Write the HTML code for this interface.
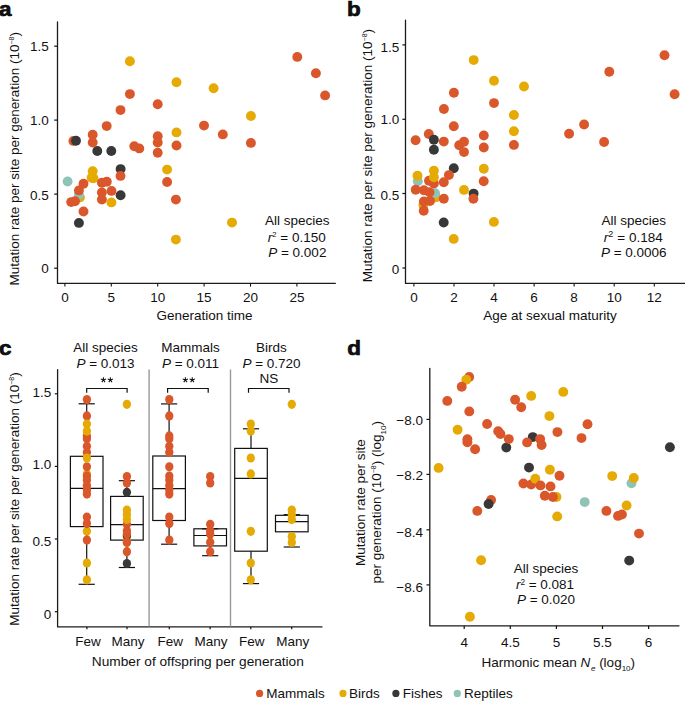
<!DOCTYPE html>
<html><head><meta charset="utf-8"><title>Figure</title>
<style>
html,body{margin:0;padding:0;background:#fff;}
body{width:685px;height:701px;overflow:hidden;}
svg{display:block;}
text{font-family:"Liberation Sans", sans-serif;fill:#111;}
</style></head>
<body>
<svg width="685" height="701" viewBox="0 0 685 701">
<rect width="685" height="701" fill="#fff"/>
<g>
<text transform="translate(-1.1,15.9) scale(1,0.93)" font-size="22.5" font-weight="bold" stroke="#000" stroke-width="0.7" stroke-linejoin="round">a</text>
<text transform="translate(347.1,15.8) scale(1,0.93)" font-size="22.5" font-weight="bold" stroke="#000" stroke-width="0.7" stroke-linejoin="round">b</text>
<text transform="translate(-0.9,354.7) scale(1,0.93)" font-size="22.5" font-weight="bold" stroke="#000" stroke-width="0.7" stroke-linejoin="round">c</text>
<text transform="translate(347.3,355.0) scale(1,0.93)" font-size="22.5" font-weight="bold" stroke="#000" stroke-width="0.7" stroke-linejoin="round">d</text>
</g>
<path d="M57.5,22.0 V283.4 H335.3" fill="none" stroke="#1c1c1c" stroke-width="1.3" stroke-linejoin="round" stroke-linecap="round"/>
<line x1="54.2" y1="268.2" x2="57.4" y2="268.2" stroke="#111" stroke-width="1.2"/>
<text x="48.8" y="272.6" font-size="13.5" text-anchor="end" >0</text>
<line x1="54.2" y1="194.1" x2="57.4" y2="194.1" stroke="#111" stroke-width="1.2"/>
<text x="48.8" y="199.8" font-size="13.5" text-anchor="end" >0.5</text>
<line x1="54.2" y1="120.1" x2="57.4" y2="120.1" stroke="#111" stroke-width="1.2"/>
<text x="48.8" y="124.8" font-size="13.5" text-anchor="end" >1.0</text>
<line x1="54.2" y1="46.2" x2="57.4" y2="46.2" stroke="#111" stroke-width="1.2"/>
<text x="48.8" y="50.8" font-size="13.5" text-anchor="end" >1.5</text>
<line x1="64.9" y1="283.4" x2="64.9" y2="286.6" stroke="#111" stroke-width="1.1"/>
<text x="64.9" y="302.2" font-size="13.5" text-anchor="middle" >0</text>
<line x1="111.3" y1="283.4" x2="111.3" y2="286.6" stroke="#111" stroke-width="1.1"/>
<text x="111.3" y="302.2" font-size="13.5" text-anchor="middle" >5</text>
<line x1="157.7" y1="283.4" x2="157.7" y2="286.6" stroke="#111" stroke-width="1.1"/>
<text x="157.7" y="302.2" font-size="13.5" text-anchor="middle" >10</text>
<line x1="204.1" y1="283.4" x2="204.1" y2="286.6" stroke="#111" stroke-width="1.1"/>
<text x="204.1" y="302.2" font-size="13.5" text-anchor="middle" >15</text>
<line x1="250.5" y1="283.4" x2="250.5" y2="286.6" stroke="#111" stroke-width="1.1"/>
<text x="250.5" y="302.2" font-size="13.5" text-anchor="middle" >20</text>
<line x1="296.9" y1="283.4" x2="296.9" y2="286.6" stroke="#111" stroke-width="1.1"/>
<text x="296.9" y="302.2" font-size="13.5" text-anchor="middle" >25</text>
<text x="204.5" y="320.1" font-size="13.5" text-anchor="middle" >Generation time</text>
<text transform="translate(19.3,158.8) rotate(-90)" font-size="13.5" text-anchor="middle">Mutation rate per site per generation (10<tspan dy="-5" font-size="7">−8</tspan><tspan dy="5">)</tspan></text>
<circle cx="97.3" cy="151.0" r="4.95" fill="#383838"/>
<circle cx="111.3" cy="151.0" r="4.95" fill="#383838"/>
<circle cx="120.6" cy="169.1" r="4.95" fill="#383838"/>
<circle cx="120.6" cy="195.3" r="4.95" fill="#383838"/>
<circle cx="78.9" cy="222.9" r="4.95" fill="#383838"/>
<circle cx="129.9" cy="61.2" r="4.95" fill="#E5AA04"/>
<circle cx="176.5" cy="82.3" r="4.95" fill="#E5AA04"/>
<circle cx="176.5" cy="132.4" r="4.95" fill="#E5AA04"/>
<circle cx="213.6" cy="88.2" r="4.95" fill="#E5AA04"/>
<circle cx="250.9" cy="116.0" r="4.95" fill="#E5AA04"/>
<circle cx="92.7" cy="171.2" r="4.95" fill="#E5AA04"/>
<circle cx="91.6" cy="177.7" r="4.95" fill="#E5AA04"/>
<circle cx="93.5" cy="178.3" r="4.95" fill="#E5AA04"/>
<circle cx="167.1" cy="169.6" r="4.95" fill="#E5AA04"/>
<circle cx="79.9" cy="197.4" r="4.95" fill="#E5AA04"/>
<circle cx="111.4" cy="202.4" r="4.95" fill="#E5AA04"/>
<circle cx="175.9" cy="239.6" r="4.95" fill="#E5AA04"/>
<circle cx="232.0" cy="222.6" r="4.95" fill="#E5AA04"/>
<circle cx="67.6" cy="181.5" r="4.95" fill="#8FC3B6"/>
<circle cx="78.9" cy="194.9" r="4.95" fill="#8FC3B6"/>
<circle cx="73.4" cy="140.9" r="4.95" fill="#D9572B"/>
<circle cx="92.7" cy="134.8" r="4.95" fill="#D9572B"/>
<circle cx="92.7" cy="142.5" r="4.95" fill="#D9572B"/>
<circle cx="106.7" cy="126.1" r="4.95" fill="#D9572B"/>
<circle cx="120.5" cy="110.1" r="4.95" fill="#D9572B"/>
<circle cx="129.9" cy="94.1" r="4.95" fill="#D9572B"/>
<circle cx="134.3" cy="146.2" r="4.95" fill="#D9572B"/>
<circle cx="139.3" cy="148.4" r="4.95" fill="#D9572B"/>
<circle cx="157.7" cy="104.2" r="4.95" fill="#D9572B"/>
<circle cx="157.7" cy="136.3" r="4.95" fill="#D9572B"/>
<circle cx="157.7" cy="142.5" r="4.95" fill="#D9572B"/>
<circle cx="157.7" cy="152.8" r="4.95" fill="#D9572B"/>
<circle cx="176.5" cy="145.5" r="4.95" fill="#D9572B"/>
<circle cx="204.0" cy="125.6" r="4.95" fill="#D9572B"/>
<circle cx="222.8" cy="134.4" r="4.95" fill="#D9572B"/>
<circle cx="250.9" cy="142.9" r="4.95" fill="#D9572B"/>
<circle cx="297.3" cy="56.9" r="4.95" fill="#D9572B"/>
<circle cx="315.9" cy="73.3" r="4.95" fill="#D9572B"/>
<circle cx="325.1" cy="95.4" r="4.95" fill="#D9572B"/>
<circle cx="120.5" cy="175.9" r="4.95" fill="#D9572B"/>
<circle cx="167.1" cy="182.0" r="4.95" fill="#D9572B"/>
<circle cx="83.5" cy="183.7" r="4.95" fill="#D9572B"/>
<circle cx="101.9" cy="182.8" r="4.95" fill="#D9572B"/>
<circle cx="106.8" cy="181.8" r="4.95" fill="#D9572B"/>
<circle cx="78.9" cy="190.4" r="4.95" fill="#D9572B"/>
<circle cx="101.9" cy="192.5" r="4.95" fill="#D9572B"/>
<circle cx="111.5" cy="190.9" r="4.95" fill="#D9572B"/>
<circle cx="71.2" cy="202.1" r="4.95" fill="#D9572B"/>
<circle cx="75.0" cy="201.3" r="4.95" fill="#D9572B"/>
<circle cx="101.9" cy="199.6" r="4.95" fill="#D9572B"/>
<circle cx="175.9" cy="199.6" r="4.95" fill="#D9572B"/>
<circle cx="83.5" cy="211.5" r="4.95" fill="#D9572B"/>
<circle cx="76.0" cy="140.7" r="4.95" fill="#383838"/>
<text x="297.3" y="224.8" font-size="13.5" text-anchor="middle" >All species</text>
<text x="296.8" y="241.6" font-size="13.5" text-anchor="middle" ><tspan font-style="italic">r</tspan><tspan dy="-4.3" font-size="7.6">2</tspan><tspan dy="4.3"> = 0.150</tspan></text>
<text x="297.3" y="257.3" font-size="13.5" text-anchor="middle" ><tspan font-style="italic">P</tspan> = 0.002</text>
<path d="M405.5,20.1 V283.4 H686" fill="none" stroke="#1c1c1c" stroke-width="1.3" stroke-linejoin="round" stroke-linecap="round"/>
<line x1="402.4" y1="268.0" x2="405.5" y2="268.0" stroke="#111" stroke-width="1.2"/>
<text x="399.3" y="273.7" font-size="13.5" text-anchor="end" >0</text>
<line x1="402.4" y1="193.5" x2="405.5" y2="193.5" stroke="#111" stroke-width="1.2"/>
<text x="399.3" y="199.9" font-size="13.5" text-anchor="end" >0.5</text>
<line x1="402.4" y1="119.3" x2="405.5" y2="119.3" stroke="#111" stroke-width="1.2"/>
<text x="399.3" y="123.9" font-size="13.5" text-anchor="end" >1.0</text>
<line x1="402.4" y1="44.9" x2="405.5" y2="44.9" stroke="#111" stroke-width="1.2"/>
<text x="399.3" y="51.7" font-size="13.5" text-anchor="end" >1.5</text>
<line x1="413.9" y1="283.4" x2="413.9" y2="286.6" stroke="#111" stroke-width="1.1"/>
<text x="413.9" y="302.2" font-size="13.5" text-anchor="middle" >0</text>
<line x1="454.0" y1="283.4" x2="454.0" y2="286.6" stroke="#111" stroke-width="1.1"/>
<text x="454.0" y="302.2" font-size="13.5" text-anchor="middle" >2</text>
<line x1="494.0" y1="283.4" x2="494.0" y2="286.6" stroke="#111" stroke-width="1.1"/>
<text x="494.0" y="302.2" font-size="13.5" text-anchor="middle" >4</text>
<line x1="534.1" y1="283.4" x2="534.1" y2="286.6" stroke="#111" stroke-width="1.1"/>
<text x="534.1" y="302.2" font-size="13.5" text-anchor="middle" >6</text>
<line x1="574.1" y1="283.4" x2="574.1" y2="286.6" stroke="#111" stroke-width="1.1"/>
<text x="574.1" y="302.2" font-size="13.5" text-anchor="middle" >8</text>
<line x1="614.2" y1="283.4" x2="614.2" y2="286.6" stroke="#111" stroke-width="1.1"/>
<text x="614.2" y="302.2" font-size="13.5" text-anchor="middle" >10</text>
<line x1="654.3" y1="283.4" x2="654.3" y2="286.6" stroke="#111" stroke-width="1.1"/>
<text x="654.3" y="302.2" font-size="13.5" text-anchor="middle" >12</text>
<text x="550.0" y="320.0" font-size="13.5" text-anchor="middle" >Age at sexual maturity</text>
<text transform="translate(372.0,155.6) rotate(-90)" font-size="13.5" text-anchor="middle">Mutation rate per site per generation (10<tspan dy="-5" font-size="7">−8</tspan><tspan dy="5">)</tspan></text>
<circle cx="433.9" cy="149.8" r="4.95" fill="#383838"/>
<circle cx="453.8" cy="168.2" r="4.95" fill="#383838"/>
<circle cx="443.7" cy="222.5" r="4.95" fill="#383838"/>
<circle cx="473.6" cy="193.6" r="4.95" fill="#383838"/>
<circle cx="473.7" cy="60.1" r="4.95" fill="#E5AA04"/>
<circle cx="494.0" cy="80.7" r="4.95" fill="#E5AA04"/>
<circle cx="524.0" cy="86.5" r="4.95" fill="#E5AA04"/>
<circle cx="513.9" cy="115.0" r="4.95" fill="#E5AA04"/>
<circle cx="513.9" cy="131.3" r="4.95" fill="#E5AA04"/>
<circle cx="483.8" cy="168.8" r="4.95" fill="#E5AA04"/>
<circle cx="464.0" cy="189.9" r="4.95" fill="#E5AA04"/>
<circle cx="435.7" cy="197.4" r="4.95" fill="#E5AA04"/>
<circle cx="423.4" cy="205.0" r="4.95" fill="#E5AA04"/>
<circle cx="493.9" cy="221.9" r="4.95" fill="#E5AA04"/>
<circle cx="453.7" cy="238.9" r="4.95" fill="#E5AA04"/>
<circle cx="417.8" cy="181.2" r="4.95" fill="#8FC3B6"/>
<circle cx="435.1" cy="193.3" r="4.95" fill="#8FC3B6"/>
<circle cx="415.6" cy="140.3" r="4.95" fill="#D9572B"/>
<circle cx="428.8" cy="134.0" r="4.95" fill="#D9572B"/>
<circle cx="443.8" cy="141.6" r="4.95" fill="#D9572B"/>
<circle cx="453.8" cy="126.3" r="4.95" fill="#D9572B"/>
<circle cx="459.2" cy="145.2" r="4.95" fill="#D9572B"/>
<circle cx="464.0" cy="141.7" r="4.95" fill="#D9572B"/>
<circle cx="464.0" cy="152.1" r="4.95" fill="#D9572B"/>
<circle cx="453.9" cy="92.7" r="4.95" fill="#D9572B"/>
<circle cx="443.9" cy="109.0" r="4.95" fill="#D9572B"/>
<circle cx="483.8" cy="135.5" r="4.95" fill="#D9572B"/>
<circle cx="483.8" cy="147.5" r="4.95" fill="#D9572B"/>
<circle cx="494.0" cy="103.1" r="4.95" fill="#D9572B"/>
<circle cx="513.9" cy="144.9" r="4.95" fill="#D9572B"/>
<circle cx="483.7" cy="181.2" r="4.95" fill="#D9572B"/>
<circle cx="448.9" cy="175.1" r="4.95" fill="#D9572B"/>
<circle cx="429.0" cy="180.7" r="4.95" fill="#D9572B"/>
<circle cx="433.9" cy="183.6" r="4.95" fill="#D9572B"/>
<circle cx="443.8" cy="182.3" r="4.95" fill="#D9572B"/>
<circle cx="415.7" cy="189.7" r="4.95" fill="#D9572B"/>
<circle cx="423.9" cy="190.2" r="4.95" fill="#D9572B"/>
<circle cx="429.5" cy="192.3" r="4.95" fill="#D9572B"/>
<circle cx="423.9" cy="201.5" r="4.95" fill="#D9572B"/>
<circle cx="430.0" cy="201.0" r="4.95" fill="#D9572B"/>
<circle cx="443.8" cy="198.8" r="4.95" fill="#D9572B"/>
<circle cx="423.7" cy="210.7" r="4.95" fill="#D9572B"/>
<circle cx="473.4" cy="198.8" r="4.95" fill="#D9572B"/>
<circle cx="664.5" cy="55.2" r="4.95" fill="#D9572B"/>
<circle cx="609.3" cy="71.8" r="4.95" fill="#D9572B"/>
<circle cx="674.6" cy="94.2" r="4.95" fill="#D9572B"/>
<circle cx="584.1" cy="124.5" r="4.95" fill="#D9572B"/>
<circle cx="569.1" cy="133.7" r="4.95" fill="#D9572B"/>
<circle cx="604.1" cy="142.0" r="4.95" fill="#D9572B"/>
<circle cx="433.9" cy="170.8" r="4.95" fill="#E5AA04"/>
<circle cx="433.9" cy="177.3" r="4.95" fill="#E5AA04"/>
<circle cx="417.5" cy="175.7" r="4.95" fill="#E5AA04"/>
<circle cx="433.9" cy="139.8" r="4.95" fill="#383838"/>
<text x="633.8" y="225.0" font-size="13.5" text-anchor="middle" >All species</text>
<text x="633.2" y="241.7" font-size="13.5" text-anchor="middle" ><tspan font-style="italic">r</tspan><tspan dy="-4.8" font-size="9">2</tspan><tspan dy="4.8" dx="0.4"> = 0.184</tspan></text>
<text x="633.8" y="257.2" font-size="13.5" text-anchor="middle" ><tspan font-style="italic">P</tspan> = 0.0006</text>
<path d="M57.6,369.6 V626.9 H322.0" fill="none" stroke="#1c1c1c" stroke-width="1.3" stroke-linejoin="round" stroke-linecap="round"/>
<line x1="54.8" y1="611.7" x2="57.6" y2="611.7" stroke="#111" stroke-width="1.2"/>
<text x="51.2" y="618.9" font-size="13.5" text-anchor="end" >0</text>
<line x1="54.8" y1="539.0" x2="57.6" y2="539.0" stroke="#111" stroke-width="1.2"/>
<text x="51.2" y="545.8" font-size="13.5" text-anchor="end" >0.5</text>
<line x1="54.8" y1="466.4" x2="57.6" y2="466.4" stroke="#111" stroke-width="1.2"/>
<text x="51.2" y="469.2" font-size="13.5" text-anchor="end" >1.0</text>
<line x1="54.8" y1="393.8" x2="57.6" y2="393.8" stroke="#111" stroke-width="1.2"/>
<text x="51.2" y="397.2" font-size="13.5" text-anchor="end" >1.5</text>
<line x1="149.1" y1="369.4" x2="149.1" y2="626.5" stroke="#999" stroke-width="1.4"/>
<line x1="230.5" y1="369.4" x2="230.5" y2="626.5" stroke="#999" stroke-width="1.4"/>
<line x1="86.9" y1="626.9" x2="86.9" y2="629.3" stroke="#111" stroke-width="1.2"/>
<text x="87.9" y="646.2" font-size="13.5" text-anchor="middle" >Few</text>
<line x1="127.0" y1="626.9" x2="127.0" y2="629.3" stroke="#111" stroke-width="1.2"/>
<text x="128.0" y="646.2" font-size="13.5" text-anchor="middle" >Many</text>
<line x1="169.3" y1="626.9" x2="169.3" y2="629.3" stroke="#111" stroke-width="1.2"/>
<text x="170.3" y="646.2" font-size="13.5" text-anchor="middle" >Few</text>
<line x1="210.1" y1="626.9" x2="210.1" y2="629.3" stroke="#111" stroke-width="1.2"/>
<text x="211.1" y="646.2" font-size="13.5" text-anchor="middle" >Many</text>
<line x1="250.8" y1="626.9" x2="250.8" y2="629.3" stroke="#111" stroke-width="1.2"/>
<text x="251.8" y="646.2" font-size="13.5" text-anchor="middle" >Few</text>
<line x1="291.7" y1="626.9" x2="291.7" y2="629.3" stroke="#111" stroke-width="1.2"/>
<text x="292.7" y="646.2" font-size="13.5" text-anchor="middle" >Many</text>
<text x="197.8" y="666.4" font-size="13.7" text-anchor="middle" >Number of offspring per generation</text>
<text transform="translate(19.3,499.0) rotate(-90)" font-size="13.5" text-anchor="middle">Mutation rate per site per generation (10<tspan dy="-5" font-size="7">−8</tspan><tspan dy="5">)</tspan></text>
<text x="105.5" y="352.1" font-size="13.5" text-anchor="middle" >All species</text>
<text x="105.5" y="367.8" font-size="13.5" text-anchor="middle" ><tspan font-style="italic">P</tspan> = 0.013</text>
<text x="190.5" y="352.1" font-size="13.5" text-anchor="middle" >Mammals</text>
<text x="190.5" y="367.8" font-size="13.5" text-anchor="middle" ><tspan font-style="italic">P</tspan> = 0.011</text>
<text x="271.5" y="352.1" font-size="13.5" text-anchor="middle" >Birds</text>
<text x="271.5" y="367.8" font-size="13.5" text-anchor="middle" ><tspan font-style="italic">P</tspan> = 0.720</text>
<path d="M86.7,392.8 V388.5 H127.1 V392.8" fill="none" stroke="#111" stroke-width="1.2"/>
<path d="M103.45,379.90L103.45,377.15M103.45,379.90L106.07,379.05M103.45,379.90L105.07,382.12M103.45,379.90L101.83,382.12M103.45,379.90L100.83,379.05" stroke="#111" stroke-width="1.05" stroke-linecap="butt" fill="none"/>
<path d="M110.35,379.90L110.35,377.15M110.35,379.90L112.97,379.05M110.35,379.90L111.97,382.12M110.35,379.90L108.73,382.12M110.35,379.90L107.73,379.05" stroke="#111" stroke-width="1.05" stroke-linecap="butt" fill="none"/>
<path d="M167.6,392.8 V388.5 H208.2 V392.8" fill="none" stroke="#111" stroke-width="1.2"/>
<path d="M185.35,379.90L185.35,377.15M185.35,379.90L187.97,379.05M185.35,379.90L186.97,382.12M185.35,379.90L183.73,382.12M185.35,379.90L182.73,379.05" stroke="#111" stroke-width="1.05" stroke-linecap="butt" fill="none"/>
<path d="M192.25,379.90L192.25,377.15M192.25,379.90L194.87,379.05M192.25,379.90L193.87,382.12M192.25,379.90L190.63,382.12M192.25,379.90L189.63,379.05" stroke="#111" stroke-width="1.05" stroke-linecap="butt" fill="none"/>
<path d="M248.5,392.8 V388.5 H289.0 V392.8" fill="none" stroke="#111" stroke-width="1.2"/>
<text x="268.8" y="382.8" font-size="13.5" text-anchor="middle" >NS</text>
<line x1="86.7" y1="403.8" x2="86.7" y2="456.3" stroke="#111" stroke-width="1.2"/>
<line x1="86.7" y1="526.6" x2="86.7" y2="584.3" stroke="#111" stroke-width="1.2"/>
<line x1="78.6" y1="403.8" x2="94.8" y2="403.8" stroke="#111" stroke-width="1.2"/>
<line x1="78.6" y1="584.3" x2="94.8" y2="584.3" stroke="#111" stroke-width="1.2"/>
<rect x="70.4" y="456.3" width="32.6" height="70.3" fill="none" stroke="#111" stroke-width="1.2"/>
<line x1="70.4" y1="488.4" x2="103.0" y2="488.4" stroke="#111" stroke-width="1.2"/>
<line x1="126.9" y1="480.7" x2="126.9" y2="496.4" stroke="#111" stroke-width="1.2"/>
<line x1="126.9" y1="540.1" x2="126.9" y2="567.5" stroke="#111" stroke-width="1.2"/>
<line x1="118.8" y1="480.7" x2="135.0" y2="480.7" stroke="#111" stroke-width="1.2"/>
<line x1="118.8" y1="567.5" x2="135.0" y2="567.5" stroke="#111" stroke-width="1.2"/>
<rect x="110.6" y="496.4" width="32.6" height="43.7" fill="none" stroke="#111" stroke-width="1.2"/>
<line x1="110.6" y1="524.6" x2="143.2" y2="524.6" stroke="#111" stroke-width="1.2"/>
<line x1="169.1" y1="403.9" x2="169.1" y2="456.0" stroke="#111" stroke-width="1.2"/>
<line x1="169.1" y1="520.5" x2="169.1" y2="544.2" stroke="#111" stroke-width="1.2"/>
<line x1="161.0" y1="403.9" x2="177.2" y2="403.9" stroke="#111" stroke-width="1.2"/>
<line x1="161.0" y1="544.2" x2="177.2" y2="544.2" stroke="#111" stroke-width="1.2"/>
<rect x="152.8" y="456.0" width="32.6" height="64.5" fill="none" stroke="#111" stroke-width="1.2"/>
<line x1="152.8" y1="488.6" x2="185.4" y2="488.6" stroke="#111" stroke-width="1.2"/>
<line x1="210.2" y1="528.8" x2="210.2" y2="528.8" stroke="#111" stroke-width="1.2"/>
<line x1="210.2" y1="545.9" x2="210.2" y2="555.7" stroke="#111" stroke-width="1.2"/>
<line x1="202.1" y1="528.8" x2="218.3" y2="528.8" stroke="#111" stroke-width="1.2"/>
<line x1="202.1" y1="555.7" x2="218.3" y2="555.7" stroke="#111" stroke-width="1.2"/>
<rect x="193.9" y="528.8" width="32.6" height="17.1" fill="none" stroke="#111" stroke-width="1.2"/>
<line x1="193.9" y1="535.5" x2="226.5" y2="535.5" stroke="#111" stroke-width="1.2"/>
<line x1="251.0" y1="428.8" x2="251.0" y2="448.4" stroke="#111" stroke-width="1.2"/>
<line x1="251.0" y1="551.2" x2="251.0" y2="583.6" stroke="#111" stroke-width="1.2"/>
<line x1="242.9" y1="428.8" x2="259.1" y2="428.8" stroke="#111" stroke-width="1.2"/>
<line x1="242.9" y1="583.6" x2="259.1" y2="583.6" stroke="#111" stroke-width="1.2"/>
<rect x="234.7" y="448.4" width="32.6" height="102.8" fill="none" stroke="#111" stroke-width="1.2"/>
<line x1="234.7" y1="478.4" x2="267.3" y2="478.4" stroke="#111" stroke-width="1.2"/>
<line x1="291.8" y1="514.7" x2="291.8" y2="515.3" stroke="#111" stroke-width="1.2"/>
<line x1="291.8" y1="531.8" x2="291.8" y2="547.0" stroke="#111" stroke-width="1.2"/>
<line x1="283.7" y1="514.7" x2="299.9" y2="514.7" stroke="#111" stroke-width="1.2"/>
<line x1="283.7" y1="547.0" x2="299.9" y2="547.0" stroke="#111" stroke-width="1.2"/>
<rect x="275.5" y="515.3" width="32.6" height="16.5" fill="none" stroke="#111" stroke-width="1.2"/>
<line x1="275.5" y1="521.6" x2="308.1" y2="521.6" stroke="#111" stroke-width="1.2"/>
<ellipse cx="86.9" cy="473.9" rx="4.15" ry="4.6" fill="#E5AA04"/>
<ellipse cx="86.9" cy="531.3" rx="4.15" ry="4.6" fill="#E5AA04"/>
<ellipse cx="86.9" cy="563.0" rx="4.15" ry="4.6" fill="#E5AA04"/>
<ellipse cx="86.9" cy="579.8" rx="4.15" ry="4.6" fill="#E5AA04"/>
<ellipse cx="86.9" cy="399.6" rx="4.15" ry="4.6" fill="#D9572B"/>
<ellipse cx="86.9" cy="415.9" rx="4.15" ry="4.6" fill="#D9572B"/>
<ellipse cx="86.9" cy="435.9" rx="4.15" ry="4.6" fill="#D9572B"/>
<ellipse cx="86.9" cy="438.7" rx="4.15" ry="4.6" fill="#D9572B"/>
<ellipse cx="86.9" cy="446.3" rx="4.15" ry="4.6" fill="#D9572B"/>
<ellipse cx="86.9" cy="452.2" rx="4.15" ry="4.6" fill="#D9572B"/>
<ellipse cx="86.9" cy="466.8" rx="4.15" ry="4.6" fill="#D9572B"/>
<ellipse cx="86.9" cy="476.0" rx="4.15" ry="4.6" fill="#D9572B"/>
<ellipse cx="86.9" cy="480.1" rx="4.15" ry="4.6" fill="#D9572B"/>
<ellipse cx="86.9" cy="485.4" rx="4.15" ry="4.6" fill="#D9572B"/>
<ellipse cx="86.9" cy="490.0" rx="4.15" ry="4.6" fill="#D9572B"/>
<ellipse cx="86.9" cy="494.1" rx="4.15" ry="4.6" fill="#D9572B"/>
<ellipse cx="86.9" cy="517.1" rx="4.15" ry="4.6" fill="#D9572B"/>
<ellipse cx="86.9" cy="523.6" rx="4.15" ry="4.6" fill="#D9572B"/>
<ellipse cx="86.9" cy="540.1" rx="4.15" ry="4.6" fill="#D9572B"/>
<ellipse cx="86.9" cy="424.1" rx="4.15" ry="4.6" fill="#E5AA04"/>
<ellipse cx="86.9" cy="431.1" rx="4.15" ry="4.6" fill="#E5AA04"/>
<ellipse cx="86.9" cy="458.0" rx="4.15" ry="4.6" fill="#E5AA04"/>
<ellipse cx="126.9" cy="536.5" rx="4.15" ry="4.6" fill="#E5AA04"/>
<ellipse cx="126.9" cy="542.5" rx="4.15" ry="4.6" fill="#E5AA04"/>
<ellipse cx="126.9" cy="535.8" rx="4.15" ry="4.6" fill="#383838"/>
<ellipse cx="126.9" cy="530.7" rx="4.15" ry="4.6" fill="#D9572B"/>
<ellipse cx="126.9" cy="533.9" rx="4.15" ry="4.6" fill="#D9572B"/>
<ellipse cx="126.9" cy="542.2" rx="4.15" ry="4.6" fill="#D9572B"/>
<ellipse cx="126.9" cy="551.7" rx="4.15" ry="4.6" fill="#D9572B"/>
<ellipse cx="126.9" cy="524.3" rx="4.15" ry="4.6" fill="#D9572B"/>
<ellipse cx="126.9" cy="510.0" rx="4.15" ry="4.6" fill="#E5AA04"/>
<ellipse cx="126.9" cy="514.5" rx="4.15" ry="4.6" fill="#E5AA04"/>
<ellipse cx="126.9" cy="519.5" rx="4.15" ry="4.6" fill="#E5AA04"/>
<ellipse cx="126.9" cy="492.3" rx="4.15" ry="4.6" fill="#383838"/>
<ellipse cx="126.9" cy="563.5" rx="4.15" ry="4.6" fill="#383838"/>
<ellipse cx="126.9" cy="476.6" rx="4.15" ry="4.6" fill="#D9572B"/>
<ellipse cx="126.9" cy="483.0" rx="4.15" ry="4.6" fill="#D9572B"/>
<ellipse cx="126.9" cy="404.3" rx="4.15" ry="4.6" fill="#E5AA04"/>
<ellipse cx="169.3" cy="399.6" rx="4.15" ry="4.6" fill="#D9572B"/>
<ellipse cx="169.3" cy="415.9" rx="4.15" ry="4.6" fill="#D9572B"/>
<ellipse cx="169.3" cy="435.9" rx="4.15" ry="4.6" fill="#D9572B"/>
<ellipse cx="169.3" cy="438.7" rx="4.15" ry="4.6" fill="#D9572B"/>
<ellipse cx="169.3" cy="446.3" rx="4.15" ry="4.6" fill="#D9572B"/>
<ellipse cx="169.3" cy="452.2" rx="4.15" ry="4.6" fill="#D9572B"/>
<ellipse cx="169.3" cy="466.8" rx="4.15" ry="4.6" fill="#D9572B"/>
<ellipse cx="169.3" cy="476.0" rx="4.15" ry="4.6" fill="#D9572B"/>
<ellipse cx="169.3" cy="480.1" rx="4.15" ry="4.6" fill="#D9572B"/>
<ellipse cx="169.3" cy="485.4" rx="4.15" ry="4.6" fill="#D9572B"/>
<ellipse cx="169.3" cy="490.0" rx="4.15" ry="4.6" fill="#D9572B"/>
<ellipse cx="169.3" cy="494.1" rx="4.15" ry="4.6" fill="#D9572B"/>
<ellipse cx="169.3" cy="517.1" rx="4.15" ry="4.6" fill="#D9572B"/>
<ellipse cx="169.3" cy="523.6" rx="4.15" ry="4.6" fill="#D9572B"/>
<ellipse cx="169.3" cy="540.1" rx="4.15" ry="4.6" fill="#D9572B"/>
<ellipse cx="210.2" cy="476.6" rx="4.15" ry="4.6" fill="#D9572B"/>
<ellipse cx="210.2" cy="483.0" rx="4.15" ry="4.6" fill="#D9572B"/>
<ellipse cx="210.2" cy="524.3" rx="4.15" ry="4.6" fill="#D9572B"/>
<ellipse cx="210.2" cy="530.7" rx="4.15" ry="4.6" fill="#D9572B"/>
<ellipse cx="210.2" cy="533.9" rx="4.15" ry="4.6" fill="#D9572B"/>
<ellipse cx="210.2" cy="542.2" rx="4.15" ry="4.6" fill="#D9572B"/>
<ellipse cx="210.2" cy="551.7" rx="4.15" ry="4.6" fill="#D9572B"/>
<ellipse cx="250.8" cy="424.1" rx="4.15" ry="4.6" fill="#E5AA04"/>
<ellipse cx="250.8" cy="431.1" rx="4.15" ry="4.6" fill="#E5AA04"/>
<ellipse cx="250.8" cy="458.0" rx="4.15" ry="4.6" fill="#E5AA04"/>
<ellipse cx="250.8" cy="473.9" rx="4.15" ry="4.6" fill="#E5AA04"/>
<ellipse cx="250.8" cy="531.3" rx="4.15" ry="4.6" fill="#E5AA04"/>
<ellipse cx="250.8" cy="563.0" rx="4.15" ry="4.6" fill="#E5AA04"/>
<ellipse cx="250.8" cy="579.8" rx="4.15" ry="4.6" fill="#E5AA04"/>
<ellipse cx="291.8" cy="404.3" rx="4.15" ry="4.6" fill="#E5AA04"/>
<ellipse cx="291.8" cy="510.0" rx="4.15" ry="4.6" fill="#E5AA04"/>
<ellipse cx="291.8" cy="514.5" rx="4.15" ry="4.6" fill="#E5AA04"/>
<ellipse cx="291.8" cy="519.5" rx="4.15" ry="4.6" fill="#E5AA04"/>
<ellipse cx="291.8" cy="536.5" rx="4.15" ry="4.6" fill="#E5AA04"/>
<ellipse cx="291.8" cy="542.5" rx="4.15" ry="4.6" fill="#E5AA04"/>
<path d="M429.8,368.3 V625.8 H679.0" fill="none" stroke="#1c1c1c" stroke-width="1.3" stroke-linejoin="round" stroke-linecap="round"/>
<line x1="426.5" y1="419.4" x2="429.6" y2="419.4" stroke="#111" stroke-width="1.2"/>
<text x="423.0" y="424.7" font-size="13.5" text-anchor="end" >−8.0</text>
<line x1="426.5" y1="474.4" x2="429.6" y2="474.4" stroke="#111" stroke-width="1.2"/>
<text x="423.0" y="480.4" font-size="13.5" text-anchor="end" >−8.2</text>
<line x1="426.5" y1="529.8" x2="429.6" y2="529.8" stroke="#111" stroke-width="1.2"/>
<text x="423.0" y="536.9" font-size="13.5" text-anchor="end" >−8.4</text>
<line x1="426.5" y1="584.9" x2="429.6" y2="584.9" stroke="#111" stroke-width="1.2"/>
<text x="423.0" y="591.6" font-size="13.5" text-anchor="end" >−8.6</text>
<line x1="464.2" y1="625.8" x2="464.2" y2="629.0" stroke="#111" stroke-width="1.2"/>
<text x="464.2" y="646.9" font-size="13.5" text-anchor="middle" >4</text>
<line x1="510.3" y1="625.8" x2="510.3" y2="629.0" stroke="#111" stroke-width="1.2"/>
<text x="510.3" y="646.9" font-size="13.5" text-anchor="middle" >4.5</text>
<line x1="556.4" y1="625.8" x2="556.4" y2="629.0" stroke="#111" stroke-width="1.2"/>
<text x="556.4" y="646.9" font-size="13.5" text-anchor="middle" >5</text>
<line x1="602.5" y1="625.8" x2="602.5" y2="629.0" stroke="#111" stroke-width="1.2"/>
<text x="602.5" y="646.9" font-size="13.5" text-anchor="middle" >5.5</text>
<line x1="648.6" y1="625.8" x2="648.6" y2="629.0" stroke="#111" stroke-width="1.2"/>
<text x="648.6" y="646.9" font-size="13.5" text-anchor="middle" >6</text>
<text x="558.3" y="666.7" font-size="13.5" text-anchor="middle" >Harmonic mean <tspan font-style="italic">N</tspan><tspan dy="4.6" dx="0.6" font-size="8" font-style="italic">e</tspan><tspan dy="-4.6"> (log</tspan><tspan dy="4.6" font-size="8">10</tspan><tspan dy="-4.6">)</tspan></text>
<text transform="translate(365.0,502.7) rotate(-90)" font-size="13.5" text-anchor="middle">Mutation rate per site</text>
<text transform="translate(381.0,502.3) rotate(-90)" font-size="13.5" text-anchor="middle">per generation (10<tspan dy="-5" font-size="7">−8</tspan><tspan dy="5">) (log</tspan><tspan dy="4.6" font-size="8">10</tspan><tspan dy="-4.6">)</tspan></text>
<circle cx="506.3" cy="447.6" r="4.95" fill="#383838"/>
<circle cx="532.8" cy="437.1" r="4.95" fill="#383838"/>
<circle cx="529.0" cy="467.6" r="4.95" fill="#383838"/>
<circle cx="669.9" cy="447.2" r="4.95" fill="#383838"/>
<circle cx="629.2" cy="560.6" r="4.95" fill="#383838"/>
<circle cx="457.6" cy="429.7" r="4.95" fill="#E5AA04"/>
<circle cx="438.6" cy="467.9" r="4.95" fill="#E5AA04"/>
<circle cx="531.2" cy="395.9" r="4.95" fill="#E5AA04"/>
<circle cx="563.3" cy="391.9" r="4.95" fill="#E5AA04"/>
<circle cx="549.4" cy="416.1" r="4.95" fill="#E5AA04"/>
<circle cx="549.9" cy="469.8" r="4.95" fill="#E5AA04"/>
<circle cx="556.5" cy="497.0" r="4.95" fill="#E5AA04"/>
<circle cx="557.2" cy="516.4" r="4.95" fill="#E5AA04"/>
<circle cx="481.1" cy="560.2" r="4.95" fill="#E5AA04"/>
<circle cx="469.9" cy="616.7" r="4.95" fill="#E5AA04"/>
<circle cx="612.2" cy="476.1" r="4.95" fill="#E5AA04"/>
<circle cx="626.6" cy="505.5" r="4.95" fill="#E5AA04"/>
<circle cx="584.7" cy="502.1" r="4.95" fill="#8FC3B6"/>
<circle cx="631.5" cy="483.3" r="4.95" fill="#8FC3B6"/>
<circle cx="469.2" cy="377.0" r="4.95" fill="#D9572B"/>
<circle cx="447.3" cy="400.9" r="4.95" fill="#D9572B"/>
<circle cx="469.3" cy="411.4" r="4.95" fill="#D9572B"/>
<circle cx="487.1" cy="424.0" r="4.95" fill="#D9572B"/>
<circle cx="467.4" cy="439.3" r="4.95" fill="#D9572B"/>
<circle cx="467.4" cy="442.2" r="4.95" fill="#D9572B"/>
<circle cx="475.1" cy="449.2" r="4.95" fill="#D9572B"/>
<circle cx="515.1" cy="399.7" r="4.95" fill="#D9572B"/>
<circle cx="521.2" cy="407.3" r="4.95" fill="#D9572B"/>
<circle cx="498.2" cy="431.3" r="4.95" fill="#D9572B"/>
<circle cx="500.4" cy="434.0" r="4.95" fill="#D9572B"/>
<circle cx="508.8" cy="439.1" r="4.95" fill="#D9572B"/>
<circle cx="527.1" cy="442.4" r="4.95" fill="#D9572B"/>
<circle cx="540.1" cy="439.1" r="4.95" fill="#D9572B"/>
<circle cx="541.6" cy="445.0" r="4.95" fill="#D9572B"/>
<circle cx="557.4" cy="432.1" r="4.95" fill="#D9572B"/>
<circle cx="581.5" cy="438.1" r="4.95" fill="#D9572B"/>
<circle cx="587.5" cy="424.3" r="4.95" fill="#D9572B"/>
<circle cx="559.5" cy="475.8" r="4.95" fill="#D9572B"/>
<circle cx="523.4" cy="483.5" r="4.95" fill="#D9572B"/>
<circle cx="531.2" cy="484.5" r="4.95" fill="#D9572B"/>
<circle cx="550.5" cy="486.4" r="4.95" fill="#D9572B"/>
<circle cx="544.8" cy="495.8" r="4.95" fill="#D9572B"/>
<circle cx="552.9" cy="497.0" r="4.95" fill="#D9572B"/>
<circle cx="491.1" cy="499.9" r="4.95" fill="#D9572B"/>
<circle cx="477.3" cy="510.9" r="4.95" fill="#D9572B"/>
<circle cx="606.4" cy="510.9" r="4.95" fill="#D9572B"/>
<circle cx="618.0" cy="515.9" r="4.95" fill="#D9572B"/>
<circle cx="621.9" cy="514.5" r="4.95" fill="#D9572B"/>
<circle cx="639.0" cy="533.6" r="4.95" fill="#D9572B"/>
<circle cx="466.3" cy="379.7" r="4.95" fill="#E5AA04"/>
<circle cx="535.3" cy="478.8" r="4.95" fill="#E5AA04"/>
<circle cx="633.8" cy="478.0" r="4.95" fill="#E5AA04"/>
<circle cx="488.6" cy="504.0" r="4.95" fill="#383838"/>
<circle cx="461.7" cy="386.8" r="4.95" fill="#D9572B"/>
<circle cx="540.5" cy="485.4" r="4.95" fill="#D9572B"/>
<text x="546.0" y="572.5" font-size="13.5" text-anchor="middle" >All species</text>
<text x="545.0" y="588.9" font-size="13.5" text-anchor="middle" ><tspan font-style="italic">r</tspan><tspan dy="-4.3" font-size="8.2">2</tspan><tspan dy="4.3"> = 0.081</tspan></text>
<text x="546.0" y="604.2" font-size="13.5" text-anchor="middle" ><tspan font-style="italic">P</tspan> = 0.020</text>
<circle cx="259.6" cy="693.4" r="3.6" fill="#D9572B"/>
<text x="266.2" y="697.6" font-size="13.5" text-anchor="start" >Mammals</text>
<circle cx="343.0" cy="693.4" r="3.6" fill="#E5AA04"/>
<text x="348.9" y="697.6" font-size="13.5" text-anchor="start" >Birds</text>
<circle cx="395.9" cy="693.4" r="3.6" fill="#383838"/>
<text x="402.7" y="697.6" font-size="13.5" text-anchor="start" >Fishes</text>
<circle cx="457.3" cy="693.4" r="3.6" fill="#8FC3B6"/>
<text x="464.0" y="697.6" font-size="13.5" text-anchor="start" >Reptiles</text>
</svg>
</body></html>
